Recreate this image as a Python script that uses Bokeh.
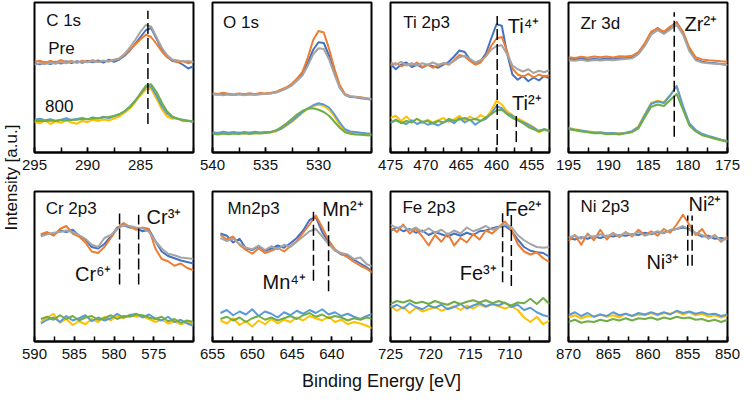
import numpy as np
from bokeh.plotting import figure
from bokeh.models import Range1d, FixedTicker, Label
from bokeh.layouts import row, column
from bokeh.embed import file_html
from bokeh.resources import INLINE

# ---------------- data ----------------
# C 1s
C1S_E = [295.0, 294.5, 294.0, 293.5, 293.0, 292.5, 292.0, 291.5, 291.0, 290.5, 290.0, 289.5, 289.0, 288.5, 288.0, 287.5,
         287.0, 286.5, 286.0, 285.5, 285.0, 284.5, 284.0, 283.5, 283.0, 282.5, 282.0, 281.5, 281.0, 280.5, 280.0]
C1S_PRE_BLUE = [59.5, 58.8, 60.2, 59.0, 60.5, 59.3, 60.8, 59.6, 60.9, 59.8, 61.0, 60.2, 61.3, 60.0, 61.8, 60.5,
                62.0, 64.5, 68.0, 72.5, 77.0, 81.5, 83.0, 76.0, 69.0, 64.0, 61.0, 60.5, 58.5, 56.0, 57.5]
C1S_PRE_ORANGE = [60.5, 61.2, 59.8, 61.0, 60.1, 61.5, 60.3, 61.0, 59.9, 61.2, 60.4, 61.6, 60.3, 61.1, 60.6, 61.8,
                  62.5, 65.0, 68.5, 72.0, 75.5, 78.5, 77.0, 72.5, 67.5, 63.5, 61.5, 60.2, 61.0, 59.5, 60.5]
C1S_PRE_GRAY = [58.5, 59.6, 58.9, 59.8, 59.2, 60.3, 59.5, 60.6, 59.8, 60.7, 60.1, 61.0, 60.4, 61.2, 60.8, 61.5,
                62.8, 65.8, 70.0, 75.0, 80.5, 85.0, 84.0, 77.0, 70.0, 65.0, 62.0, 61.3, 60.6, 61.0, 60.3]
C1S_800_YELLOW = [20.5, 19.5, 21.2, 19.0, 20.8, 19.8, 21.5, 20.0, 19.2, 21.0, 20.2, 21.8, 21.0, 22.0, 21.3, 22.6,
                  24.0, 26.5, 29.5, 33.5, 38.0, 42.0, 42.5, 36.0, 29.0, 24.0, 22.5, 23.0, 20.8, 21.2, 20.5]
C1S_800_BLUE = [21.8, 22.5, 21.5, 22.2, 21.0, 21.9, 22.8, 21.6, 22.3, 23.0, 22.1, 23.4, 22.6, 23.8, 23.0, 24.2,
                25.5, 27.5, 30.5, 34.5, 39.0, 43.5, 44.0, 38.0, 31.0, 26.0, 23.5, 22.4, 21.8, 21.2, 20.5]
C1S_800_GREEN = [21.0, 21.2, 21.0, 21.4, 21.2, 21.6, 21.5, 21.9, 21.8, 22.3, 22.2, 22.7, 22.8, 23.3, 23.6, 24.3,
                 25.5, 27.5, 30.5, 34.5, 39.5, 44.5, 45.5, 40.5, 33.5, 27.5, 24.0, 22.5, 21.5, 21.0, 20.6]
C1S_TICKS = [295, 290, 285]
C1S_REF = [284.3]

# O 1s
O1S_E = [540.0, 539.5, 539.0, 538.5, 538.0, 537.5, 537.0, 536.5, 536.0, 535.5, 535.0, 534.5, 534.0, 533.5, 533.0, 532.5,
         532.0, 531.5, 531.0, 530.5, 530.0, 529.5, 529.0, 528.5, 528.0, 527.5, 527.0, 526.5, 526.0, 525.5, 525.0]
O1S_PRE_BLUE = [39.0, 38.6, 39.2, 38.8, 38.4, 39.0, 38.5, 39.1, 38.6, 39.0, 39.2, 39.5, 40.2, 41.5, 43.0, 45.0,
                48.5, 52.5, 60.0, 68.5, 73.5, 73.0, 64.5, 53.5, 43.5, 38.5, 37.0, 36.8, 36.2, 35.8, 35.2]
O1S_PRE_ORANGE = [39.5, 39.0, 39.8, 39.2, 38.6, 39.3, 38.8, 39.5, 38.9, 39.6, 39.4, 39.8, 40.5, 42.0, 43.5, 46.0,
                  49.5, 54.0, 63.5, 75.0, 81.0, 80.0, 69.0, 56.0, 45.0, 39.0, 37.5, 37.2, 36.8, 36.2, 35.6]
O1S_PRE_GRAY = [38.6, 38.9, 38.2, 38.7, 38.3, 38.8, 38.2, 38.7, 38.5, 38.9, 39.0, 39.3, 40.0, 41.2, 42.8, 44.8,
                48.0, 51.5, 58.0, 65.5, 69.5, 69.0, 62.0, 52.0, 43.0, 38.5, 37.3, 37.0, 36.5, 36.0, 35.5]
O1S_800_YELLOW = [12.8, 13.2, 12.6, 13.1, 12.8, 13.3, 12.7, 13.2, 12.9, 13.0, 13.3, 13.5, 14.2, 15.8, 18.0, 20.5,
                  23.5, 26.5, 29.0, 31.0, 31.8, 31.0, 28.5, 24.0, 18.5, 14.5, 13.2, 12.8, 12.4, 12.0, 11.8]
O1S_800_BLUE = [13.5, 13.0, 13.8, 13.2, 13.6, 13.0, 13.7, 13.2, 13.9, 13.4, 13.6, 13.8, 14.5, 16.0, 18.5, 21.0,
                24.0, 27.0, 29.5, 31.5, 32.8, 32.0, 30.0, 25.5, 20.0, 15.5, 14.0, 13.6, 13.2, 12.8, 12.5]
O1S_800_GREEN = [12.5, 12.0, 12.6, 12.2, 12.7, 12.3, 12.8, 12.4, 12.9, 12.6, 13.0, 13.4, 14.8, 17.0, 19.5, 22.5,
                 25.5, 27.8, 29.2, 29.5, 28.5, 27.0, 24.5, 20.5, 16.5, 13.5, 12.5, 12.0, 11.8, 11.5, 11.3]
O1S_TICKS = [540, 535, 530]

# Ti 2p3
TI_E = [475.0, 474.25, 473.5, 472.75, 472.0, 471.25, 470.5, 469.75, 469.0, 468.25, 467.5, 466.75, 466.0, 465.25,
        464.5, 463.75, 463.0, 462.25, 461.5, 460.75, 460.0, 459.25, 458.5, 457.75, 457.0, 456.25, 455.5, 454.75,
        454.0, 453.25, 452.5]
TI_PRE_BLUE = [59.0, 55.5, 58.5, 60.0, 57.0, 58.5, 56.5, 58.5, 57.5, 56.5, 58.5, 60.5, 64.0, 68.0, 67.0, 62.0,
               59.0, 61.0, 66.0, 76.0, 85.5, 84.5, 66.0, 52.0, 48.5, 51.0, 47.5, 50.0, 48.0, 51.0, 49.5]
TI_PRE_ORANGE = [58.0, 59.5, 57.5, 59.0, 58.0, 60.0, 57.0, 58.5, 56.5, 58.0, 59.5, 58.5, 61.5, 65.0, 64.0, 61.0,
                 58.5, 60.0, 64.5, 71.0, 76.0, 77.0, 67.5, 56.0, 52.0, 50.5, 52.5, 50.0, 52.0, 50.5, 51.5]
TI_PRE_GRAY = [60.0, 58.5, 60.5, 58.0, 59.5, 58.0, 59.5, 58.5, 60.0, 58.5, 59.5, 59.0, 61.0, 63.5, 64.5, 62.5,
               60.0, 61.5, 64.0, 68.5, 71.0, 71.5, 65.5, 58.0, 55.5, 54.0, 55.5, 53.0, 54.5, 53.5, 55.0]
TI_800_YELLOW = [23.0, 24.5, 21.0, 24.0, 20.5, 22.5, 19.5, 22.0, 20.0, 21.5, 23.0, 20.5, 22.0, 24.5, 21.5, 24.0,
                 22.0, 25.0, 23.0, 28.0, 34.5, 32.0, 27.5, 25.0, 22.5, 21.0, 19.0, 17.0, 13.5, 15.0, 14.0]
TI_800_BLUE = [19.5, 21.5, 20.0, 19.0, 21.5, 19.0, 20.5, 18.5, 19.5, 18.0, 20.0, 21.5, 19.5, 23.0, 20.0, 22.0,
               18.5, 21.0, 22.5, 26.0, 31.0, 29.5, 26.0, 24.5, 21.5, 20.0, 18.5, 16.5, 14.5, 15.5, 14.5]
TI_800_GREEN = [20.0, 22.0, 19.5, 21.0, 20.0, 22.5, 20.5, 21.0, 19.5, 21.0, 20.0, 22.5, 21.0, 22.0, 23.0, 21.5,
                22.5, 21.0, 23.5, 25.5, 28.0, 28.5, 25.5, 23.0, 21.5, 19.5, 17.0, 15.5, 14.0, 15.5, 14.5]
TI_TICKS = [475, 470, 465, 460, 455]
TI_REF = [459.9, 457.2]

# Zr 3d
ZR_E = [195.0, 194.2, 193.4, 192.6, 191.8, 191.0, 190.2, 189.4, 188.6, 187.8, 187.0, 186.2, 185.4, 184.6, 183.8,
        183.0, 182.2, 181.4, 180.6, 179.8, 179.0, 178.2, 177.4, 176.6, 175.8, 175.0]
ZR_PRE_BLUE = [62.5, 62.0, 62.8, 61.8, 62.4, 62.0, 62.6, 62.2, 62.9, 63.0, 63.5, 66.0, 72.0, 80.0, 83.0, 80.0,
               83.5, 87.0, 80.0, 68.5, 62.0, 60.5, 59.8, 59.5, 59.0, 58.5]
ZR_PRE_ORANGE = [63.5, 63.0, 63.8, 63.2, 64.0, 63.5, 64.0, 63.4, 64.2, 64.0, 64.5, 67.0, 73.0, 80.5, 82.5, 80.5,
                 84.0, 86.5, 80.5, 70.0, 63.5, 62.0, 61.5, 61.2, 60.8, 60.5]
ZR_PRE_GRAY = [61.5, 61.2, 61.8, 61.0, 61.6, 61.3, 61.8, 61.5, 62.0, 62.3, 62.8, 65.5, 71.0, 78.5, 81.5, 79.0,
               82.0, 85.0, 78.5, 67.5, 61.5, 60.0, 59.5, 59.2, 58.8, 58.3]
ZR_800_YELLOW = [16.5, 15.5, 14.8, 14.0, 13.6, 13.2, 13.0, 12.6, 12.8, 13.0, 14.0, 17.5, 25.5, 33.0, 34.5, 33.5,
                 38.5, 44.0, 30.0, 19.0, 14.5, 12.0, 10.5, 9.5, 8.5, 7.5]
ZR_800_BLUE = [16.0, 15.2, 14.5, 14.0, 13.2, 13.5, 12.8, 13.0, 12.5, 13.2, 14.2, 17.0, 25.0, 32.5, 34.0, 33.0,
               38.0, 44.5, 31.0, 19.5, 15.0, 12.5, 11.0, 9.8, 8.5, 7.5]
ZR_800_GREEN = [15.5, 14.8, 14.0, 13.5, 12.8, 13.0, 12.2, 12.5, 12.0, 12.8, 13.5, 16.0, 23.5, 30.5, 32.0, 31.0,
                35.0, 39.0, 28.5, 18.0, 14.0, 11.5, 10.5, 9.2, 8.2, 7.0]
ZR_TICKS = [195, 190, 185, 180, 175]
ZR_REF = [181.7]

# Cr 2p3
CR_E = [589.2, 588.4, 587.6, 586.8, 586.0, 585.2, 584.4, 583.6, 582.8, 582.0, 581.2, 580.4, 579.6, 578.8, 578.0,
        577.2, 576.4, 575.6, 574.8, 574.0, 573.2, 572.4, 571.6, 570.8, 570.0]
CR_PRE_BLUE = [70.5, 72.5, 71.0, 74.0, 73.0, 74.5, 70.5, 68.0, 63.0, 62.0, 65.0, 70.0, 76.0, 77.5, 76.0, 75.5,
               73.5, 74.5, 67.0, 60.0, 57.0, 55.5, 54.0, 53.0, 52.0]
CR_PRE_ORANGE = [71.5, 73.0, 70.5, 75.0, 77.0, 72.0, 70.0, 66.0, 60.0, 59.0, 63.0, 69.0, 75.0, 79.0, 76.5, 74.5,
                 76.0, 75.0, 62.0, 55.0, 53.5, 50.5, 52.0, 49.0, 47.5]
CR_PRE_GRAY = [70.0, 71.5, 72.5, 73.0, 74.0, 73.0, 71.0, 68.5, 64.5, 63.0, 69.0, 71.0, 75.0, 77.5, 77.0, 76.0,
               75.5, 73.0, 67.0, 62.0, 58.5, 57.5, 56.0, 55.5, 55.0]
CR_800_YELLOW = [13.0, 16.0, 18.5, 12.5, 15.0, 11.0, 13.5, 11.5, 15.0, 13.0, 16.5, 14.0, 17.0, 15.5, 18.0, 16.5,
                 17.0, 15.0, 13.0, 14.5, 12.0, 13.5, 11.5, 13.0, 12.0]
CR_800_BLUE = [12.0, 14.5, 16.0, 13.0, 17.0, 14.0, 15.5, 17.5, 13.5, 16.0, 14.0, 15.5, 18.5, 16.0, 17.5, 18.5,
               16.0, 18.0, 15.5, 14.0, 16.5, 13.0, 14.5, 12.0, 10.5]
CR_800_GREEN = [15.0, 16.5, 14.5, 17.5, 15.0, 17.0, 14.0, 16.0, 17.0, 14.5, 15.5, 17.5, 15.0, 17.0, 16.5, 18.0,
                17.5, 16.0, 15.0, 16.5, 13.5, 15.0, 12.5, 14.0, 13.0]
CR_TICKS = [590, 585, 580, 575]
CR_REF = [579.3, 576.9]

# Mn 2p3
MN_E = [654.0, 653.2, 652.4, 651.6, 650.8, 650.0, 649.2, 648.4, 647.6, 646.8, 646.0, 645.2, 644.4, 643.6, 642.8,
        642.0, 641.2, 640.4, 639.6, 638.8, 638.0, 637.2, 636.4, 635.6, 634.8]
MN_PRE_BLUE = [72.0, 70.5, 66.0, 68.5, 62.0, 61.0, 63.5, 60.5, 62.0, 64.0, 62.5, 65.5, 69.0, 74.0, 81.0, 83.0,
               73.0, 66.0, 61.0, 58.0, 57.5, 54.5, 52.0, 49.5, 46.0]
MN_PRE_ORANGE = [71.0, 68.0, 70.0, 64.5, 61.0, 58.5, 62.0, 59.0, 60.5, 62.5, 60.0, 63.5, 67.0, 72.5, 78.0, 84.0,
                 76.0, 67.5, 61.5, 58.5, 56.0, 53.0, 50.5, 48.5, 45.5]
MN_PRE_GRAY = [69.0, 67.0, 68.5, 65.0, 62.5, 61.5, 64.0, 61.0, 63.5, 61.5, 64.5, 63.0, 66.5, 70.0, 73.5, 75.0,
               70.0, 65.0, 60.5, 59.0, 58.0, 55.0, 56.0, 51.5, 50.0]
MN_800_YELLOW = [14.0, 12.0, 15.5, 11.0, 13.5, 10.0, 14.0, 11.5, 15.0, 12.0, 14.5, 13.0, 16.0, 14.0, 17.0, 15.5,
                 14.0, 16.5, 13.0, 14.5, 11.5, 13.0, 12.0, 10.5, 8.5]
MN_800_BLUE = [19.0, 21.0, 17.5, 20.0, 18.0, 21.5, 17.0, 20.0, 18.5, 16.0, 19.5, 17.5, 20.5, 18.5, 21.0, 19.0,
               21.5, 18.0, 19.5, 17.0, 18.5, 16.5, 15.0, 17.0, 18.5]
MN_800_GREEN = [15.0, 16.5, 14.0, 16.0, 13.0, 15.5, 17.0, 14.5, 16.0, 14.0, 15.5, 17.0, 15.0, 17.5, 19.0, 16.5,
                18.0, 15.5, 17.0, 16.0, 14.0, 15.5, 14.5, 16.0, 15.0]
MN_TICKS = [655, 650, 645, 640]
MN_REF = [642.3, 640.4]

# Fe 2p3
FE_E = [725.0, 724.2, 723.4, 722.6, 721.8, 721.0, 720.2, 719.4, 718.6, 717.8, 717.0, 716.2, 715.4, 714.6, 713.8,
        713.0, 712.2, 711.4, 710.6, 709.8, 709.0, 708.2, 707.4, 706.6, 705.8, 705.0]
FE_PRE_BLUE = [74.0, 76.0, 73.5, 75.0, 72.5, 74.0, 71.0, 73.0, 71.5, 70.0, 72.0, 70.5, 72.5, 71.0, 73.5, 74.0,
               75.5, 76.5, 77.0, 74.0, 68.0, 63.0, 60.5, 59.5, 59.0, 56.5]
FE_PRE_ORANGE = [76.0, 73.0, 78.0, 72.0, 75.0, 70.0, 64.0, 71.0, 66.5, 72.0, 64.0, 69.0, 66.0, 71.5, 68.0, 74.0,
                 72.0, 76.0, 80.0, 74.5, 65.0, 60.0, 58.0, 59.5, 55.5, 53.0]
FE_PRE_GRAY = [78.0, 75.5, 77.0, 74.0, 76.0, 73.0, 75.5, 72.5, 74.5, 71.5, 74.0, 72.0, 76.0, 73.5, 75.0, 77.0,
               74.5, 76.0, 78.0, 76.5, 71.0, 67.5, 65.0, 63.0, 62.5, 63.0]
FE_800_YELLOW = [24.0, 20.5, 23.0, 19.0, 22.5, 20.0, 21.5, 23.0, 20.5, 22.0, 23.5, 21.0, 24.0, 22.0, 24.5, 23.0,
                 25.0, 23.5, 22.0, 23.5, 21.0, 16.0, 13.0, 16.5, 11.5, 14.0]
FE_800_BLUE = [22.5, 24.5, 22.0, 25.5, 23.0, 21.5, 24.0, 22.5, 24.5, 21.5, 23.0, 25.0, 22.0, 24.0, 25.5, 23.5,
               25.0, 24.0, 26.0, 23.0, 24.5, 21.0, 22.5, 19.5, 17.5, 16.5]
FE_800_GREEN = [25.0, 27.0, 26.0, 27.5, 25.5, 26.5, 25.0, 27.0, 25.5, 24.5, 26.5, 25.0, 26.5, 27.5, 26.0, 27.5,
                25.5, 27.0, 25.5, 24.0, 26.0, 25.5, 28.5, 25.0, 29.0, 25.0]
FE_TICKS = [725, 720, 715, 710]
FE_REF = [710.9, 709.8]

# Ni 2p3
NI_E = [870.0, 869.2, 868.4, 867.6, 866.8, 866.0, 865.2, 864.4, 863.6, 862.8, 862.0, 861.2, 860.4, 859.6, 858.8,
        858.0, 857.2, 856.4, 855.6, 854.8, 854.0, 853.2, 852.4, 851.6, 850.8, 850.0]
NI_PRE_BLUE = [69.0, 68.0, 69.5, 68.5, 70.0, 69.0, 70.5, 70.0, 71.0, 70.5, 71.5, 71.0, 72.5, 71.5, 73.0, 72.5,
               74.0, 75.0, 76.0, 75.0, 72.0, 70.0, 70.5, 68.5, 69.0, 68.0]
NI_PRE_ORANGE = [67.0, 71.0, 64.5, 72.0, 67.5, 74.5, 68.0, 72.5, 69.5, 73.0, 70.0, 74.5, 71.0, 73.5, 70.5, 75.0,
                 72.5, 78.0, 84.5, 78.0, 71.0, 75.0, 68.5, 71.0, 66.5, 70.0]
NI_PRE_GRAY = [69.5, 70.5, 68.5, 71.0, 69.5, 71.5, 70.0, 72.0, 70.5, 72.5, 71.0, 73.0, 70.5, 72.0, 73.5, 72.0,
               74.5, 75.0, 77.0, 74.5, 72.5, 71.0, 69.0, 70.5, 67.5, 68.5]
NI_800_YELLOW = [16.0, 17.5, 15.5, 17.0, 16.5, 18.0, 16.5, 17.5, 16.0, 18.5, 17.0, 18.0, 17.5, 19.0, 17.5, 19.0,
                 18.5, 20.0, 18.0, 19.5, 17.5, 18.5, 16.5, 17.5, 16.0, 17.5]
NI_800_BLUE = [17.5, 19.5, 17.0, 19.0, 16.5, 18.0, 17.0, 19.5, 17.5, 18.5, 17.0, 19.0, 18.0, 19.5, 18.0, 19.5,
               18.0, 20.5, 19.0, 20.0, 18.5, 19.5, 18.0, 18.5, 17.0, 18.0]
NI_800_GREEN = [13.0, 14.5, 12.5, 13.5, 13.0, 14.5, 13.5, 15.0, 14.0, 15.5, 14.0, 15.5, 15.0, 16.0, 14.5, 16.0,
                15.0, 16.5, 15.5, 16.0, 14.5, 15.0, 13.5, 14.5, 13.0, 14.5]
NI_TICKS = [870, 865, 860, 855, 850]
NI_REF = [855.0, 854.45]

# ---------------- styling ----------------
FONT = "Liberation Sans"
BLUE, ORANGE, GRAY = "#4472C4", "#ED7D31", "#A5A5A5"
YELLOW, LBLUE, GREEN = "#FFC000", "#5B9BD5", "#70AD47"
FW, FH = 159, 150


def make_panel(E, pre, post, xr, ticks, refs, labels, right=6, bottom=37):
    p = figure(frame_width=FW, frame_height=FH, x_range=Range1d(xr[0], xr[1]), y_range=Range1d(0, 100),
               output_backend="svg", toolbar_location=None, y_axis_location=None,
               min_border_left=13, min_border_right=right, min_border_top=2, min_border_bottom=bottom)
    p.xgrid.grid_line_color = None
    p.ygrid.grid_line_color = None
    p.outline_line_color = "black"
    p.outline_line_width = 2
    p.outline_line_alpha = 1
    p.background_fill_color = "white"
    p.border_fill_color = "white"
    ax = p.xaxis[0]
    minor = [float(v) for v in np.arange(xr[0], xr[1] - 0.01, -2.5)]
    ax.ticker = FixedTicker(ticks=ticks, minor_ticks=minor)
    ax.axis_line_color = "black"
    ax.axis_line_width = 2
    ax.major_tick_in = 5
    ax.major_tick_out = 0
    ax.minor_tick_in = 5
    ax.minor_tick_out = 0
    ax.major_tick_line_color = "black"
    ax.minor_tick_line_color = "black"
    ax.major_tick_line_width = 1.5
    ax.minor_tick_line_width = 1.5
    ax.major_label_text_font = FONT
    ax.major_label_text_font_size = "15px"
    ax.major_label_text_color = "#111111"
    ax.major_label_standoff = 7
    for color, vals in pre + post:
        p.line(E, vals, line_color=color, line_width=2, line_join="round")
    for x, y0, y1 in refs:
        p.segment(x0=[x], y0=[y0], x1=[x], y1=[y1], line_color="black", line_width=1.5, line_dash="11 4")
    for text, x, y, size in labels:
        p.add_layout(Label(x=x, y=y, text=text, text_font=FONT, text_font_size=size, text_color="#111111",
                           text_align="left", text_baseline="middle"))
    return p


T, S = "17px", "20px"
p1 = make_panel(C1S_E, [(BLUE, C1S_PRE_BLUE), (ORANGE, C1S_PRE_ORANGE), (GRAY, C1S_PRE_GRAY)],
                [(YELLOW, C1S_800_YELLOW), (LBLUE, C1S_800_BLUE), (GREEN, C1S_800_GREEN)],
                (295, 280), C1S_TICKS, [(C1S_REF[0], 19, 94.5)],
                [("C 1s", 293.9, 88, T), ("Pre", 293.7, 69.5, T), ("800", 294.0, 31, T)])
p2 = make_panel(O1S_E, [(BLUE, O1S_PRE_BLUE), (ORANGE, O1S_PRE_ORANGE), (GRAY, O1S_PRE_GRAY)],
                [(YELLOW, O1S_800_YELLOW), (LBLUE, O1S_800_BLUE), (GREEN, O1S_800_GREEN)],
                (540, 525), O1S_TICKS, [], [("O 1s", 539.0, 87, T)])
p3 = make_panel(TI_E, [(BLUE, TI_PRE_BLUE), (ORANGE, TI_PRE_ORANGE), (GRAY, TI_PRE_GRAY)],
                [(YELLOW, TI_800_YELLOW), (LBLUE, TI_800_BLUE), (GREEN, TI_800_GREEN)],
                (475, 452.5), TI_TICKS, [(TI_REF[0], 5, 91), (TI_REF[1], 7, 27)],
                [("Ti 2p3", 473.2, 87, T), ("Ti\u2074\u207a", 458.4, 84.5, S), ("Ti\u00b2\u207a", 457.8, 33, S)])
p4 = make_panel(ZR_E, [(BLUE, ZR_PRE_BLUE), (ORANGE, ZR_PRE_ORANGE), (GRAY, ZR_PRE_GRAY)],
                [(YELLOW, ZR_800_YELLOW), (LBLUE, ZR_800_BLUE), (GREEN, ZR_800_GREEN)],
                (195, 175), ZR_TICKS, [(ZR_REF[0], 10.5, 93.5)],
                [("Zr 3d", 193.5, 86, T), ("Zr\u00b2\u207a", 180.4, 85.5, S)], right=13)
p5 = make_panel(CR_E, [(BLUE, CR_PRE_BLUE), (ORANGE, CR_PRE_ORANGE), (GRAY, CR_PRE_GRAY)],
                [(YELLOW, CR_800_YELLOW), (LBLUE, CR_800_BLUE), (GREEN, CR_800_GREEN)],
                (590, 570), CR_TICKS, [(CR_REF[0], 38, 85.5), (CR_REF[1], 38, 84.5)],
                [("Cr 2p3", 588.6, 89, T), ("Cr\u00b3\u207a", 575.9, 83, S), ("Cr\u2076\u207a", 584.9, 45, S)],
                bottom=26)
p6 = make_panel(MN_E, [(BLUE, MN_PRE_BLUE), (ORANGE, MN_PRE_ORANGE), (GRAY, MN_PRE_GRAY)],
                [(YELLOW, MN_800_YELLOW), (LBLUE, MN_800_BLUE), (GREEN, MN_800_GREEN)],
                (655, 635), MN_TICKS, [(MN_REF[0], 40.5, 86.5), (MN_REF[1], 33.5, 80)],
                [("Mn2p3", 653.1, 89, T), ("Mn\u00b2\u207a", 641.2, 88.5, S), ("Mn\u2074\u207a", 648.7, 40, S)],
                bottom=26)
p7 = make_panel(FE_E, [(BLUE, FE_PRE_BLUE), (ORANGE, FE_PRE_ORANGE), (GRAY, FE_PRE_GRAY)],
                [(YELLOW, FE_800_YELLOW), (LBLUE, FE_800_BLUE), (GREEN, FE_800_GREEN)],
                (725, 705), FE_TICKS, [(FE_REF[0], 39.5, 85.5), (FE_REF[1], 37, 84.5)],
                [("Fe 2p3", 723.5, 89.5, T), ("Fe\u00b2\u207a", 710.6, 88.5, S), ("Fe\u00b3\u207a", 716.3, 46, S)],
                bottom=26)
p8 = make_panel(NI_E, [(BLUE, NI_PRE_BLUE), (ORANGE, NI_PRE_ORANGE), (GRAY, NI_PRE_GRAY)],
                [(YELLOW, NI_800_YELLOW), (LBLUE, NI_800_BLUE), (GREEN, NI_800_GREEN)],
                (870, 850), NI_TICKS, [(NI_REF[0], 50.5, 84), (NI_REF[1], 50.5, 84)],
                [("Ni 2p3", 868.5, 90, T), ("Ni\u00b2\u207a", 854.9, 91.5, S), ("Ni\u00b3\u207a", 860.2, 53, S)],
                right=13, bottom=26)

# axis titles
grid_h = (2 + FH + 37) + (2 + FH + 26)
yl = figure(width=21, height=grid_h, x_range=Range1d(0, 21), y_range=Range1d(0, grid_h),
            output_backend="svg", toolbar_location=None, x_axis_location=None, y_axis_location=None,
            min_border=0, outline_line_color=None)
yl.xgrid.grid_line_color = None
yl.ygrid.grid_line_color = None
yl.add_layout(Label(x=11, y=grid_h - 177, text="Intensity [a.u.]", angle=np.pi / 2, text_font=FONT,
                    text_font_size="17px", text_color="#111111", text_align="center", text_baseline="middle"))

xl = figure(width=740, height=24, x_range=Range1d(0, 740), y_range=Range1d(0, 24),
            output_backend="svg", toolbar_location=None, x_axis_location=None, y_axis_location=None,
            min_border=0, outline_line_color=None)
xl.xgrid.grid_line_color = None
xl.ygrid.grid_line_color = None
xl.add_layout(Label(x=381, y=11, text="Binding Energy [eV]", text_font=FONT, text_font_size="18px",
                    text_color="#111111", text_align="center", text_baseline="middle"))

layout = column(row(yl, column(row(p1, p2, p3, p4), row(p5, p6, p7, p8))), xl)

open("out.html", "w").write(file_html(layout, INLINE))
